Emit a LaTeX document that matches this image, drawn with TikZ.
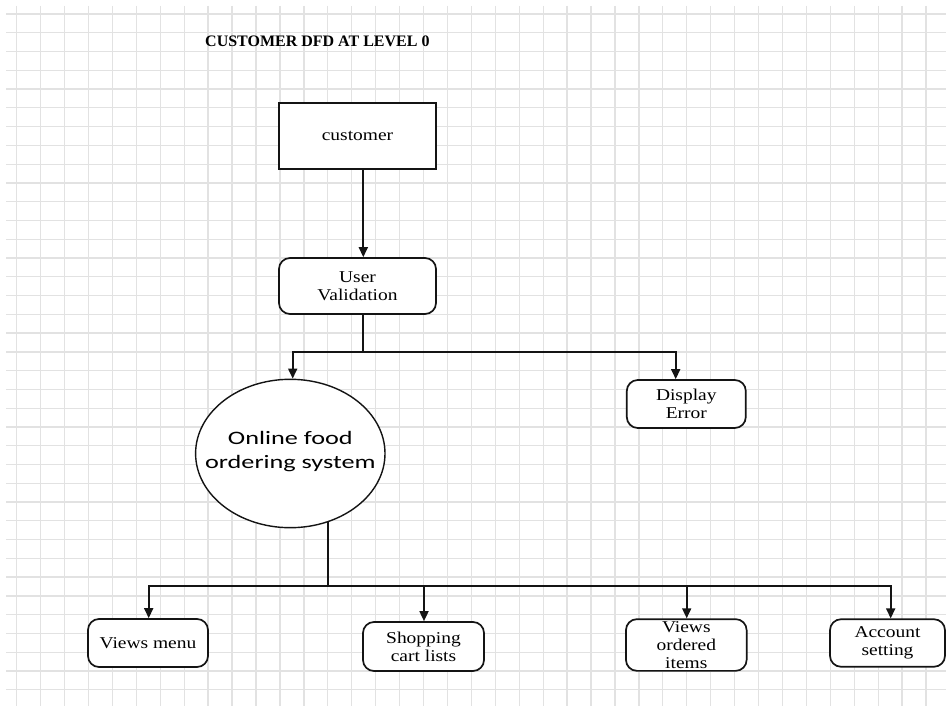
\documentclass[tikz,border=0pt]{standalone}
\usepackage{fontspec}
\usetikzlibrary{shapes.geometric,arrows.meta,calc}
\setmainfont{Liberation Serif}
\newfontfamily\boxfont[FakeStretch=1.18]{Liberation Serif}
\newfontfamily\titlefont{Liberation Serif}
\newfontfamily\circfont[FakeStretch=1.38]{Carlito}
\definecolor{gridc}{RGB}{226,226,226}
\definecolor{ink}{RGB}{20,20,20}
\tikzset{
  x=1pt,y=-1pt,
  gridline/.style={draw=gridc,line width=1.3pt},
  proc/.style={draw=ink,line width=1.7pt,rounded corners=11pt,fill=white,inner sep=0pt,align=center,
     font=\boxfont\fontsize{16.5}{18}\selectfont},
  entity/.style={draw=ink,line width=1.7pt,fill=white,inner sep=0pt,align=center,
     font=\boxfont\fontsize{16.5}{18}\selectfont},
  conn/.style={draw=ink,line width=1.7pt},
  arr/.style={conn,-{Triangle[length=10pt,width=9pt]}},
}
\begin{document}
\begin{tikzpicture}
\useasboundingbox (0,0) rectangle (946,706);
\fill[white] (0,0) rectangle (946,706);
% grid
\foreach \k in {0,...,38}{\draw[gridline] ({16.7+23.93*\k},6) -- ({16.7+23.93*\k},706);}
\foreach \k in {0,...,36}{\draw[gridline] (6,{14+18.77*\k}) -- (946,{14+18.77*\k});}
% title
\node[anchor=base west,inner sep=0pt,font=\titlefont\bfseries\fontsize{16}{18}\selectfont] (title) at (205,46.5) {CUSTOMER DFD AT LEVEL 0};
% nodes
\node[entity,minimum width=157,minimum height=66] (cust) at (357.5,136) {customer};
\node[proc,minimum width=157,minimum height=56] (uv) at (357.5,286) {User\\Validation};
\node[ellipse,draw=ink,line width=1.4pt,fill=white,inner sep=0pt,minimum width=189.4,minimum height=148.4] (of) at (290.3,453.5) {};
\node[inner sep=0pt,align=center,font=\circfont\fontsize{19}{24.7}\selectfont] (oft) at ([yshift=2pt]of.center) {Online food\\ordering system};
\node[proc,minimum width=119,minimum height=48] (de) at (686.3,404) {Display\\Error};
\node[proc,minimum width=120,minimum height=48] (vm) at (148,643) {Views menu};
\node[proc,minimum width=121,minimum height=49] (sc) at (423.5,646.5) {Shopping\\cart lists};
\node[proc,minimum width=120.7,minimum height=51.7] (vo) at (686.3,645) {Views\\ordered\\items};
\node[proc,minimum width=115,minimum height=47.5] (as) at (887.5,643) {Account\\setting};
% connectors
\draw[arr] ([xshift=5.8pt]cust.south) -- ([xshift=5.8pt]uv.north);
\coordinate (j1) at (363.3,352);
\draw[conn] ([xshift=5.8pt]uv.south) -- (j1);
\draw[arr] (j1) -| ([xshift=2.4pt]of.north);
\draw[arr] (j1) -| ([xshift=-10.6pt]de.north);
\coordinate (j2) at (327.7,586);
\draw[conn] ([shift={(37.4,68.2)}]of.center) -- (j2);
\draw[arr] (j2) -| ([xshift=0.7pt]vm.north);
\draw[arr] (j2) -| ([xshift=0.5pt]sc.north);
\draw[arr] (j2) -| ([xshift=0.4pt]vo.north);
\draw[arr] (j2) -| ([xshift=3.2pt]as.north);
\end{tikzpicture}
\end{document}
